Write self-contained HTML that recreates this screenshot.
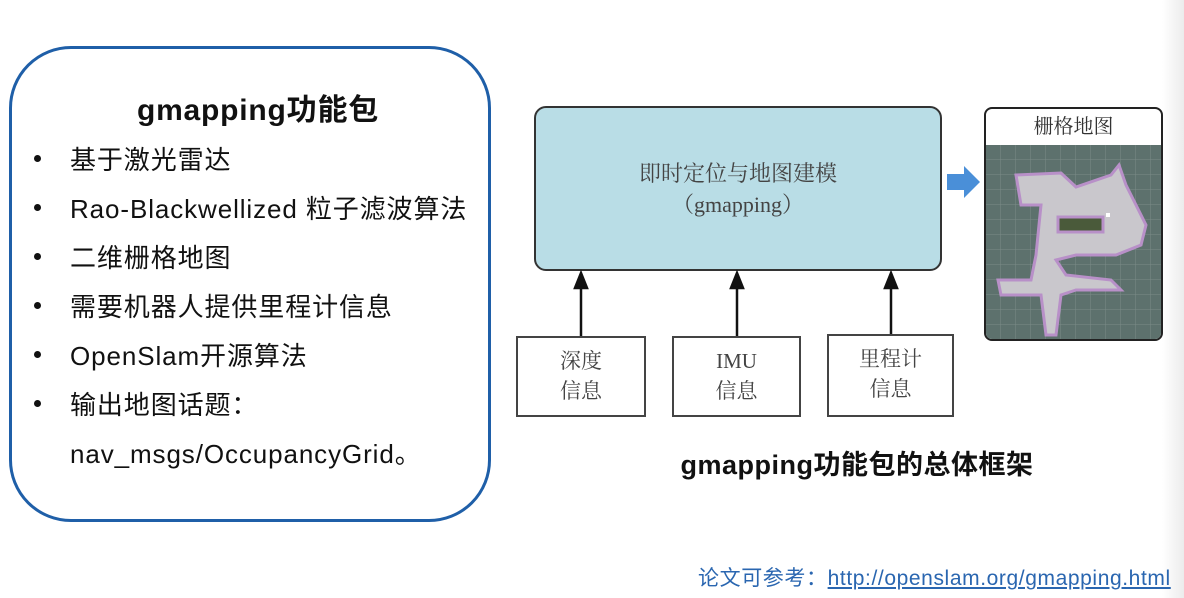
<!DOCTYPE html>
<html><head><meta charset="utf-8"><style>
body{margin:0;width:1184px;height:598px;background:#fff;position:relative;overflow:hidden;font-family:"Liberation Sans","Noto Sans CJK SC",sans-serif}
.abs{position:absolute}
.lb{position:absolute;left:9px;top:46px;width:476px;height:470px;border:3px solid #1f5fa8;border-radius:62px}
.t{position:absolute;left:8px;width:100%;text-align:center;top:36px;font-size:30px;font-weight:bold;color:#111;letter-spacing:0.8px}
.li{position:absolute;left:58px;font-size:26px;letter-spacing:0.9px;color:#111;white-space:nowrap}
.dot{position:absolute;left:22px;width:7px;height:7px;border-radius:50%;background:#111}
.serif{font-family:"Liberation Serif","Noto Serif CJK SC",serif;color:#444}
.sb{position:absolute;border:2px solid #444;background:#fff;text-align:center;font-size:21px;line-height:30px;box-sizing:border-box;padding-top:8px}
</style></head><body>
<div class="abs" style="right:0;top:0;width:22px;height:598px;background:linear-gradient(90deg,#fff,#ececec)"></div>
<div class="lb">
<div class="t">gmapping功能包</div>
<div class="dot" style="top:106px"></div><div class="li" style="top:91px">基于激光雷达</div>
<div class="dot" style="top:155px"></div><div class="li" style="top:140px">Rao-Blackwellized 粒子滤波算法</div>
<div class="dot" style="top:204px"></div><div class="li" style="top:189px">二维栅格地图</div>
<div class="dot" style="top:253px"></div><div class="li" style="top:238px">需要机器人提供里程计信息</div>
<div class="dot" style="top:302px"></div><div class="li" style="top:287px">OpenSlam开源算法</div>
<div class="dot" style="top:351px"></div><div class="li" style="top:336px">输出地图话题：</div>
<div class="li" style="top:385px">nav_msgs/OccupancyGrid。</div>
</div>
<div class="abs serif" style="left:534px;top:106px;width:408px;height:165px;box-sizing:border-box;border:2px solid #333;border-radius:12px;background:#b9dde6;text-align:center;font-size:22px;line-height:31px;padding-top:50px">即时定位与地图建模<br>（gmapping）</div>
<svg class="abs" style="left:0;top:0" width="1184" height="598">
<g stroke="#111" stroke-width="2.5" fill="#111">
<line x1="581" y1="336" x2="581" y2="285"/><polygon points="575,288 581,273 587,288"/>
<line x1="737" y1="336" x2="737" y2="285"/><polygon points="731,288 737,273 743,288"/>
<line x1="891" y1="334" x2="891" y2="285"/><polygon points="885,288 891,273 897,288"/>
</g>
<polygon points="947,174 964,174 964,166 980,182 964,198 964,190 947,190" fill="#4a8fd8"/>
</svg>
<div class="sb serif" style="left:516px;top:336px;width:130px;height:81px">深度<br>信息</div>
<div class="sb serif" style="left:672px;top:336px;width:129px;height:81px">IMU<br>信息</div>
<div class="sb serif" style="left:827px;top:334px;width:127px;height:83px">里程计<br>信息</div>
<div class="abs" style="left:984px;top:107px;width:179px;height:234px;box-sizing:border-box;border:2px solid #222;border-radius:8px;background:#fff;overflow:hidden">
<div class="serif" style="text-align:center;font-size:20px;line-height:36px;height:36px;color:#333">栅格地图</div>
<svg width="175" height="196" style="display:block">
<defs><pattern id="g" width="15" height="15" patternUnits="userSpaceOnUse"><rect width="15" height="15" fill="#5d716d"/><path d="M15 0V15H0" fill="none" stroke="#7a8c88" stroke-width="1"/></pattern></defs>
<rect width="175" height="196" fill="url(#g)"/>
<g fill="#c9c7cc" stroke="#b890c8" stroke-width="3">
<path d="M30,30 L75,28 L90,42 L125,30 L133,20 L140,40 L150,60 L160,80 L155,100 L130,110 L90,110 L70,115 L80,130 L125,135 L135,145 L90,145 L75,150 L70,190 L60,190 L55,150 L15,150 L12,135 L45,135 L50,110 L55,60 L35,60 Z"/>
</g>
<rect x="72" y="72" width="45" height="15" fill="#4a5a3a" stroke="#b890c8" stroke-width="3"/>
<rect x="120" y="68" width="4" height="4" fill="#fff"/>
</svg>
</div>
<div class="abs" style="left:620px;top:443px;width:474px;text-align:center;font-size:27px;font-weight:bold;color:#111;letter-spacing:0.5px">gmapping功能包的总体框架</div>
<div class="abs" style="left:698px;top:562px;font-size:21px;letter-spacing:0.6px;color:#2a66b0;white-space:nowrap">论文可参考：<span style="text-decoration:underline">http://openslam.org/gmapping.html</span></div>
</body></html>
